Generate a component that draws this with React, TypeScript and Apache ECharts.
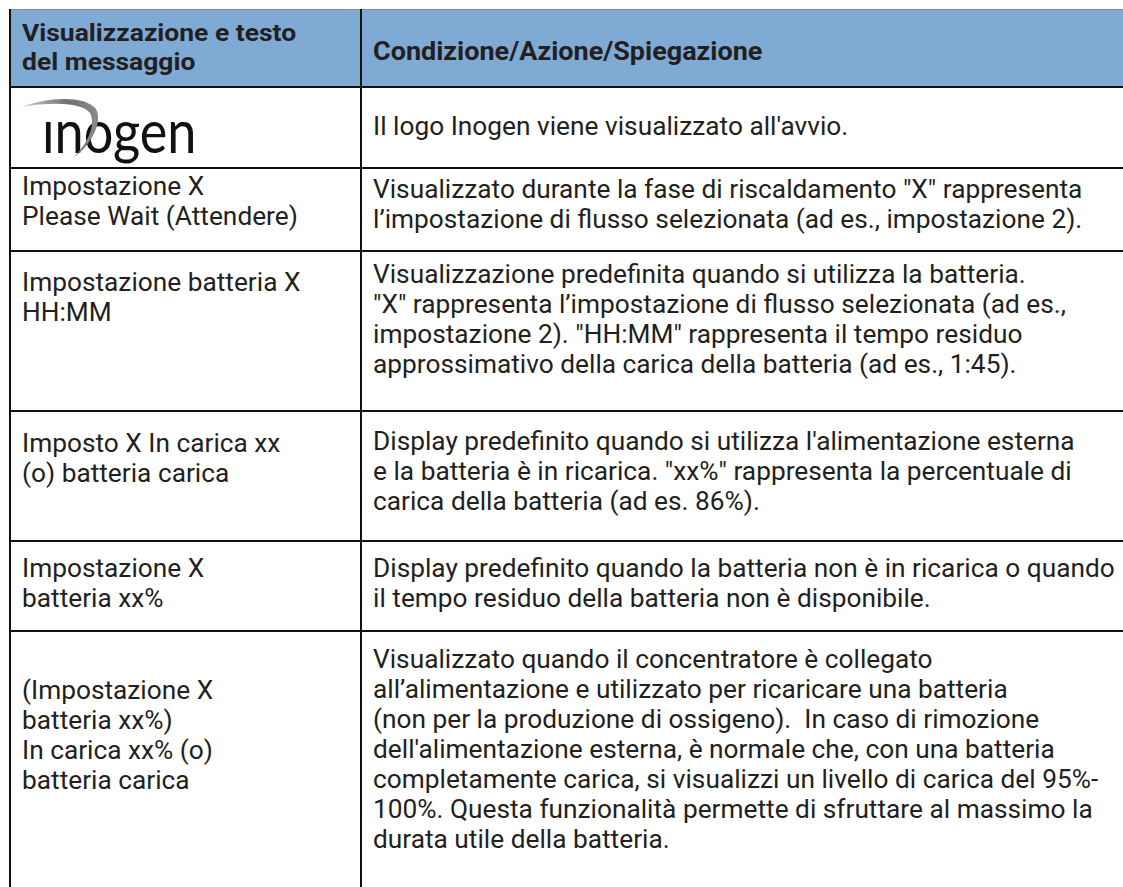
import React, { useEffect, useRef } from "react";
import * as echarts from "echarts";

// ---------- data ----------
const headerTexts = ["Visualizzazione e testo\ndel messaggio", "Condizione/Azione/Spiegazione"];
const logoText = "inogen";
const leftTexts = [
  "",
  "Impostazione X\nPlease Wait (Attendere)",
  "Impostazione batteria X\nHH:MM",
  "Imposto X In carica xx\n(o) batteria carica",
  "Impostazione X\nbatteria xx%",
  "(Impostazione X\nbatteria xx%)\nIn carica xx% (o)\nbatteria carica",
];
const rightTexts = [
  "Il logo Inogen viene visualizzato all'avvio.",
  "Visualizzato durante la fase di riscaldamento \"X\" rappresenta\nl’impostazione di flusso selezionata (ad es., impostazione 2).",
  "Visualizzazione predefinita quando si utilizza la batteria.\n\"X\" rappresenta l’impostazione di flusso selezionata (ad es.,\nimpostazione 2). \"HH:MM\" rappresenta il tempo residuo\napprossimativo della carica della batteria (ad es., 1:45).",
  "Display predefinito quando si utilizza l'alimentazione esterna\ne la batteria è in ricarica. \"xx%\" rappresenta la percentuale di\ncarica della batteria (ad es. 86%).",
  "Display predefinito quando la batteria non è in ricarica o quando\nil tempo residuo della batteria non è disponibile.",
  "Visualizzato quando il concentratore è collegato\nall’alimentazione e utilizzato per ricaricare una batteria\n(non per la produzione di ossigeno).  In caso di rimozione\ndell'alimentazione esterna, è normale che, con una batteria\ncompletamente carica, si visualizzi un livello di carica del 95%-\n100%. Questa funzionalità permette di sfruttare al massimo la\ndurata utile della batteria.",
];

// ---------- layout ----------
const W = 1123;
const H = 887;
const X0 = 10;
const XDIV = 361;
const rowEdges = [9, 87, 168, 251, 411, 541, 631, 887];
const leftTop = [0, 171, 267, 428, 553, 675];
const rightTop = [111, 174, 259, 426, 553, 644];
const LH = 30;
const FONT = "Roboto, 'Open Sans', sans-serif";
const FS = 25.4;
const SX = 1.035;
const HSX = 1.08;
const TXT = "#231f20";

const swooshD =
  "M0,8 C22,-1 62,-5 74,10 C81,22 70,46 52,58 C66,44 74,26 68,14 C60,3 28,3 0,8 Z";
echarts.graphic.registerShape("logo", echarts.graphic.extendPath(swooshD, {}));

export default function App() {
  const ref = useRef<HTMLDivElement>(null);
  useEffect(() => {
    if (!ref.current) return;
    const chart = echarts.init(ref.current, null, { renderer: "svg" });
    const els: any[] = [];
    els.push({
      type: "rect",
      shape: { x: X0, y: rowEdges[0], width: W - X0, height: rowEdges[1] - rowEdges[0] },
      style: { fill: "#7eaad4" },
    });
    els.push({
      type: "line",
      shape: { x1: X0, y1: rowEdges[0] + 0.5, x2: W, y2: rowEdges[0] + 0.5 },
      style: { stroke: "#8a8a8a", lineWidth: 1 },
    });
    els.push({
      type: "text",
      x: 22,
      y: 18,
      scaleX: HSX,
      style: { text: headerTexts[0], font: `bold 24.5px ${FONT}`, lineHeight: 29, fill: TXT, textVerticalAlign: "top" },
    });
    els.push({
      type: "text",
      x: 373,
      y: 37,
      scaleX: HSX,
      style: { text: headerTexts[1], font: `bold 25px ${FONT}`, lineHeight: 29, fill: TXT, textVerticalAlign: "top" },
    });
    for (let i = 1; i < rowEdges.length - 1; i++) {
      els.push({
        type: "line",
        shape: { x1: X0, y1: rowEdges[i], x2: W, y2: rowEdges[i] },
        style: { stroke: "#111", lineWidth: 2.2 },
      });
    }
    els.push({ type: "line", shape: { x1: X0, y1: rowEdges[0], x2: X0, y2: H }, style: { stroke: "#111", lineWidth: 2 } });
    els.push({ type: "line", shape: { x1: XDIV, y1: rowEdges[0], x2: XDIV, y2: H }, style: { stroke: "#111", lineWidth: 2 } });
    leftTexts.forEach((t, i) => {
      if (!t) return;
      els.push({
        type: "text",
        x: 22,
        y: leftTop[i],
        scaleX: SX,
        style: { text: t, font: `${FS}px ${FONT}`, lineHeight: LH, fill: TXT, textVerticalAlign: "top" },
      });
    });
    rightTexts.forEach((t, i) => {
      els.push({
        type: "text",
        x: 373,
        y: rightTop[i],
        scaleX: SX,
        style: { text: t, font: `${FS}px ${FONT}`, lineHeight: LH, fill: TXT, textVerticalAlign: "top" },
      });
    });
    // logo
    els.push({
      type: "text",
      x: 42,
      y: 100,
      scaleX: 0.87,
      style: { text: logoText, font: `60px Lato, ${FONT}`, fill: "#111", textVerticalAlign: "top" },
    });
    els.push({ type: "rect", shape: { x: 41, y: 98, width: 12, height: 19 }, style: { fill: "#fff" } });
    els.push({
      type: "logo",
      x: 22,
      y: 99,
      style: {
        fill: new echarts.graphic.LinearGradient(0, 0, 1, 0, [
          { offset: 0, color: "#cfcfcf" },
          { offset: 0.6, color: "#6f6f6f" },
          { offset: 1, color: "#8a8a8a" },
        ]),
      },
    });
    chart.setOption({ animation: false, graphic: els });
    return () => chart.dispose();
  }, []);
  return <div ref={ref} style={{ position: "fixed", left: 0, top: 0, width: W, height: H, background: "#fff" }} />;
}
